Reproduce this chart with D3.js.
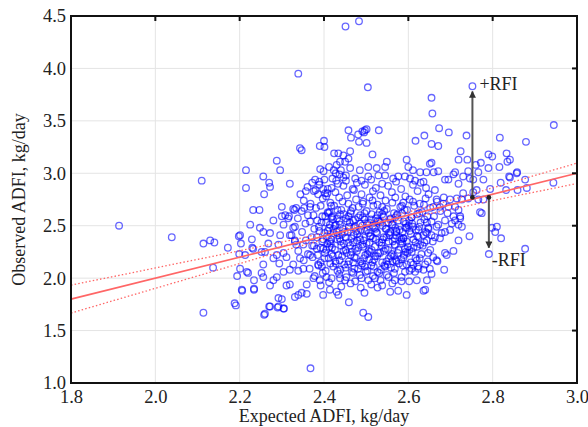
<!DOCTYPE html>
<html><head><meta charset="utf-8">
<script src="https://cdn.jsdelivr.net/npm/d3@7"></script>
<style>
body{margin:0;background:#fff}
text{font-family:"Liberation Serif","Times New Roman",serif;fill:#222}
</style>
</head><body>
<svg id="chart" width="588" height="427"></svg>
<script>
const xTicks=[1.8,2.0,2.2,2.4,2.6,2.8,3.0];
const yTicks=[1.0,1.5,2.0,2.5,3.0,3.5,4.0,4.5];
const xTitle="Expected ADFI, kg/day";
const yTitle="Observed ADFI, kg/day";
const fitX=[1.8,3.0], fitY=[1.8,3.0];
const bandX=[1.8,1.9,2.0,2.1,2.2,2.3,2.4,2.5,2.6,2.7,2.8,2.9,3.0];
const bandUpper=[1.933,2.015,2.097,2.179,2.261,2.344,2.431,2.525,2.631,2.744,2.861,2.979,3.097];
const bandLower=[1.667,1.785,1.903,2.021,2.139,2.256,2.369,2.475,2.569,2.656,2.739,2.821,2.903];
const rfiArrows=[{label:"+RFI",x:2.752,from:2.77,to:3.78},{label:"-RFI",x:2.791,from:2.77,to:2.29}];

const outerPoints=[
[1.914,2.50],[2.039,2.39],[2.114,2.33],[2.130,2.36],[2.140,2.34],[2.137,2.10],[2.114,1.67],[2.172,2.29],[2.194,2.02],[2.188,1.76],[2.191,1.74],[2.198,2.40],[2.203,2.33],[2.199,2.23],[2.206,1.88],[2.217,2.06],[2.220,2.05],[2.229,2.37],[2.230,2.29],[2.234,1.98],[2.234,1.89],[2.258,1.65],[2.270,1.73],[2.290,1.72],[2.300,1.80],[2.305,1.71],
[2.110,2.93],[2.215,3.03],[2.215,2.86],[2.232,2.65],[2.247,2.65],[2.256,2.97],[2.258,2.80],[2.270,2.91],[2.272,2.87],[2.288,3.12],[2.296,3.03],[2.300,2.68],[2.319,2.90],[2.327,2.66],[2.330,2.65],[2.339,3.95],[2.343,3.24],[2.347,3.22],
[2.451,4.40],[2.483,4.45],[2.504,3.82],[2.752,3.83],[2.655,3.72],[2.657,3.57],
[2.458,3.41],[2.464,3.34],[2.481,3.37],[2.491,3.40],[2.495,3.39],[2.497,3.41],[2.501,3.42],[2.483,3.30],[2.501,3.29],[2.530,3.41],[2.515,3.18],
[2.617,3.31],[2.638,3.36],[2.655,3.28],[2.671,3.26],[2.673,3.43],[2.696,3.39],[2.738,3.36],[2.817,3.34],[2.879,3.30],[2.945,3.46],[2.944,2.91],
[2.390,3.26],[2.400,3.31],[2.401,3.25],[2.424,3.19],[2.357,2.83],[2.379,2.94],[2.389,2.92],
[2.391,3.04],[2.399,3.02],[2.412,3.06],[2.423,3.03],[2.428,3.00],[2.420,2.95],[2.429,2.93],
[2.380,2.84],[2.386,2.80],[2.398,2.85],[2.403,2.81],[2.409,2.85],[2.408,2.81],
[2.367,2.68],[2.392,2.69],[2.334,2.67],[2.353,2.67],[2.317,2.59],[2.300,2.59],[2.410,2.62],[2.420,2.59],[2.432,2.65],
[2.434,3.19],[2.446,3.17],[2.462,3.21],[2.458,3.14],[2.438,3.11],[2.430,3.08],[2.450,3.11],
[2.440,3.03],[2.452,2.98],[2.446,2.96],[2.437,2.99],[2.462,3.05],
[2.485,3.03],[2.505,3.06],[2.525,3.05],[2.549,3.11],[2.545,3.06],[2.529,2.98],[2.505,2.97],[2.489,2.93],[2.474,2.95],[2.545,2.98],[2.564,2.95],[2.576,2.97],[2.596,3.13],[2.600,3.06],[2.611,3.03],[2.592,2.97],[2.616,2.93],[2.628,3.01],[2.643,3.01],[2.651,3.09],[2.636,2.92],[2.660,3.01],
[2.724,3.21],[2.719,3.13],[2.740,3.13],[2.742,3.02],[2.760,3.08],[2.772,3.10],[2.766,3.01],[2.778,2.94],[2.754,2.94],[2.746,2.95],[2.730,2.97],[2.719,2.90],[2.707,2.99],[2.711,3.01],[2.695,2.94],[2.687,2.94],[2.671,3.02],[2.655,3.10],[2.790,3.18],[2.799,3.16],[2.790,3.05],[2.816,3.06],[2.833,3.19],[2.841,3.13],[2.835,3.11],[2.858,3.01],[2.839,2.97],[2.819,2.91],[2.794,2.85],[2.832,2.84],[2.859,2.84],[2.877,2.94],[2.881,2.86],[2.762,2.84],[2.754,2.82],[2.730,2.81],[2.841,2.96],[2.857,3.00],
[2.742,2.76],[2.727,2.75],[2.715,2.76],[2.699,2.75],[2.683,2.71],[2.667,2.75],[2.770,2.63],[2.774,2.62],[2.778,2.75],[2.766,2.75],[2.695,2.68],[2.711,2.68],[2.719,2.65],[2.707,2.59],[2.723,2.59],[2.659,2.68],[2.675,2.68],
[2.667,2.49],[2.679,2.43],[2.687,2.44],[2.675,2.38],[2.699,2.46],[2.703,2.52],[2.711,2.55],[2.723,2.57],[2.727,2.49],[2.719,2.51],[2.719,2.36],[2.745,2.40],[2.655,2.41],[2.659,2.20],[2.669,2.16],[2.667,2.17],[2.687,2.24],[2.691,2.22],[2.707,2.26],[2.685,2.08],[2.651,2.09],[2.798,2.48],[2.810,2.49],[2.806,2.44],[2.820,2.38],[2.877,2.28],[2.791,2.23],
[2.368,1.14],[2.434,1.84],[2.459,1.77],[2.496,1.86],[2.493,1.67],[2.505,1.63],[2.527,1.91],[2.557,1.87],[2.576,1.88],[2.596,1.84],[2.636,1.88],[2.640,1.89],
[2.534,1.98],[2.553,2.01],[2.568,1.98],[2.584,1.97],[2.602,1.97],[2.620,1.98],[2.644,1.98],[2.655,2.04],[2.636,2.08],[2.616,2.06],[2.608,2.09],[2.592,2.06],[2.572,2.16],[2.545,2.11],[2.521,2.00],[2.505,1.98],[2.489,2.00],[2.474,1.97],[2.450,1.98],[2.438,2.00],[2.624,2.09],
[2.647,2.24],[2.640,2.13],[2.612,2.13],[2.620,2.17],[2.608,2.25],[2.592,2.28],[2.628,2.32],[2.644,2.36],[2.636,2.41],[2.647,2.48],[2.655,2.54],[2.584,2.35],[2.568,2.38],[2.572,2.44],[2.596,2.48],[2.624,2.46],
[2.205,1.89],[2.234,1.90],[2.256,2.01],[2.252,2.05],[2.280,1.98],[2.288,2.01],[2.272,1.93],[2.292,1.81],[2.311,1.93],[2.319,1.94],[2.331,1.82],[2.339,1.84],[2.347,1.86],[2.359,1.85],[2.359,1.94],[2.339,2.07],[2.304,2.06],[2.319,2.08],[2.294,2.14],[2.280,2.19],[2.288,2.22],[2.256,2.13],[2.252,2.25],[2.260,2.25],[2.232,2.28],[2.248,2.48],[2.256,2.44],[2.272,2.43],[2.225,2.51],[2.201,2.41],[2.213,2.22],[2.201,2.09],[2.292,2.32],[2.268,2.33],[2.296,2.41],[2.304,2.51],[2.315,2.57],[2.319,2.41],[2.331,2.36],[2.304,2.24],[2.311,2.20],[2.327,2.13],[2.351,2.09],[2.375,2.00],[2.390,1.98],[2.406,2.01],[2.414,1.89],[2.430,1.87],[2.398,1.84],[2.292,1.73],[2.272,1.73],[2.304,1.71],[2.260,1.66],[2.331,2.35],[2.280,2.55],[2.308,2.60],[2.367,2.54],[2.375,2.60],[2.327,2.48],[2.351,2.32],[2.343,2.19],[2.367,2.22],[2.386,2.13],[2.398,2.28],[2.414,2.35],[2.430,2.44],[2.414,2.51]
];

const corePoints=[
[2.372,2.91],[2.401,2.94],[2.433,2.90],[2.452,2.93],[2.478,2.91],[2.512,2.94],[2.538,2.90],[2.571,2.92],[2.604,2.95],[2.629,2.91],
[2.361,2.87],[2.389,2.89],[2.418,2.86],[2.446,2.88],[2.468,2.85],[2.497,2.89],[2.523,2.86],[2.552,2.88],[2.583,2.85],[2.611,2.89],[2.642,2.86],
[2.344,2.80],[2.376,2.83],[2.405,2.78],[2.427,2.82],[2.455,2.79],[2.471,2.84],[2.489,2.80],[2.516,2.83],[2.534,2.79],[2.561,2.82],[2.593,2.78],[2.622,2.83],[2.648,2.80],[2.663,2.84],
[2.352,2.74],[2.368,2.71],[2.397,2.76],[2.415,2.72],[2.436,2.77],[2.458,2.71],[2.476,2.75],[2.493,2.73],[2.508,2.77],[2.527,2.70],[2.546,2.74],[2.569,2.77],[2.588,2.72],[2.603,2.75],[2.627,2.71],[2.641,2.76],[2.668,2.73],[2.684,2.77],
[2.347,2.64],[2.381,2.67],[2.409,2.63],[2.424,2.69],[2.441,2.65],[2.463,2.62],[2.482,2.68],[2.501,2.64],[2.517,2.69],[2.532,2.63],[2.549,2.66],[2.566,2.62],[2.581,2.68],[2.597,2.65],[2.614,2.69],[2.633,2.63],[2.652,2.67],[2.676,2.64],[2.693,2.62],
[2.338,2.57],[2.362,2.60],[2.384,2.55],[2.403,2.59],[2.421,2.56],[2.438,2.61],[2.452,2.57],[2.469,2.55],[2.486,2.60],[2.497,2.56],[2.513,2.61],[2.528,2.55],[2.541,2.59],[2.557,2.56],[2.573,2.60],[2.589,2.54],[2.607,2.58],[2.621,2.61],[2.638,2.56],[2.661,2.59],[2.687,2.55],
[2.331,2.49],[2.356,2.52],[2.377,2.47],[2.394,2.53],[2.412,2.48],[2.428,2.51],[2.445,2.47],[2.461,2.53],[2.474,2.49],[2.488,2.46],[2.503,2.52],[2.519,2.48],[2.534,2.53],[2.548,2.47],[2.563,2.51],[2.579,2.46],[2.594,2.52],[2.611,2.49],[2.629,2.53],[2.648,2.47],[2.671,2.51],
[2.323,2.41],[2.348,2.44],[2.371,2.39],[2.389,2.45],[2.407,2.40],[2.423,2.43],[2.437,2.38],[2.456,2.44],[2.471,2.41],[2.484,2.39],[2.497,2.45],[2.511,2.40],[2.526,2.43],[2.542,2.39],[2.557,2.44],[2.571,2.41],[2.588,2.38],[2.603,2.45],[2.621,2.40],[2.644,2.43],[2.663,2.39],
[2.334,2.32],[2.357,2.36],[2.376,2.31],[2.396,2.35],[2.413,2.30],[2.431,2.37],[2.447,2.33],[2.462,2.31],[2.478,2.36],[2.493,2.30],[2.508,2.34],[2.523,2.37],[2.537,2.31],[2.553,2.35],[2.568,2.32],[2.584,2.37],[2.599,2.30],[2.617,2.34],[2.634,2.31],[2.658,2.35],
[2.339,2.26],[2.362,2.23],[2.383,2.28],[2.402,2.24],[2.419,2.29],[2.434,2.22],[2.451,2.27],[2.466,2.25],[2.482,2.29],[2.498,2.22],[2.513,2.27],[2.529,2.24],[2.546,2.28],[2.561,2.23],[2.577,2.27],[2.594,2.25],[2.612,2.29],[2.631,2.23],[2.652,2.27],
[2.352,2.17],[2.373,2.20],[2.392,2.15],[2.411,2.19],[2.428,2.14],[2.443,2.21],[2.459,2.16],[2.476,2.19],[2.491,2.14],[2.507,2.18],[2.522,2.21],[2.538,2.15],[2.554,2.19],[2.571,2.17],[2.589,2.20],[2.606,2.15],[2.627,2.19],[2.646,2.16],
[2.366,2.09],[2.387,2.12],[2.404,2.07],[2.422,2.11],[2.439,2.08],[2.457,2.13],[2.472,2.09],[2.488,2.12],[2.503,2.07],[2.518,2.11],[2.535,2.08],[2.551,2.13],[2.568,2.09],[2.587,2.12],[2.603,2.07],[2.623,2.11],
[2.378,2.02],[2.397,2.05],[2.418,2.00],[2.436,2.04],[2.453,2.01],[2.469,2.05],[2.485,2.03],[2.499,2.06],[2.516,2.02],[2.531,2.05],[2.549,2.03],[2.566,2.05],[2.584,2.01],
[2.392,1.93],[2.412,1.96],[2.441,1.92],[2.463,1.95],[2.487,1.91],[2.512,1.94],[2.538,1.93],[2.562,1.95]
];

const densePoints=[
[2.395,2.11],[2.432,2.07],[2.448,2.13],[2.481,2.09],[2.512,2.12],[2.527,2.06],[2.559,2.10],[2.578,2.14],[2.415,2.14],[2.466,2.06],
[2.401,2.19],[2.418,2.23],[2.437,2.17],[2.454,2.24],[2.472,2.20],[2.487,2.16],[2.503,2.23],[2.519,2.18],[2.533,2.24],[2.548,2.16],[2.566,2.21],[2.583,2.18],[2.598,2.24],[2.617,2.19],[2.385,2.22],
[2.392,2.29],[2.408,2.33],[2.426,2.27],[2.441,2.31],[2.458,2.34],[2.474,2.28],[2.491,2.32],[2.506,2.26],[2.521,2.30],[2.537,2.34],[2.552,2.27],[2.568,2.31],[2.586,2.33],[2.603,2.27],[2.621,2.30],[2.638,2.34],[2.372,2.31],
[2.383,2.39],[2.401,2.43],[2.417,2.37],[2.433,2.41],[2.449,2.44],[2.465,2.38],[2.479,2.42],[2.494,2.36],[2.509,2.40],[2.524,2.44],[2.539,2.37],[2.556,2.41],[2.572,2.45],[2.589,2.38],[2.606,2.42],[2.624,2.39],[2.641,2.44],
[2.388,2.49],[2.405,2.53],[2.422,2.47],[2.438,2.51],[2.455,2.54],[2.471,2.48],[2.486,2.52],[2.501,2.46],[2.516,2.50],[2.531,2.54],[2.546,2.47],[2.561,2.51],[2.577,2.55],[2.593,2.48],[2.609,2.52],[2.626,2.49],[2.644,2.53],
[2.396,2.59],[2.413,2.63],[2.431,2.57],[2.447,2.61],[2.464,2.64],[2.481,2.58],[2.496,2.62],[2.511,2.56],[2.527,2.60],[2.543,2.64],[2.558,2.57],[2.574,2.61],[2.591,2.65],[2.608,2.58],[2.626,2.62],[2.645,2.59],
[2.417,2.69],[2.444,2.73],[2.468,2.67],[2.492,2.71],[2.515,2.74],[2.538,2.68],[2.562,2.72],[2.585,2.69],[2.611,2.73],[2.637,2.70]
];

const centerPoints=[
[2.405,2.27],[2.421,2.21],[2.446,2.26],[2.463,2.22],[2.478,2.26],[2.495,2.19],[2.509,2.25],[2.526,2.21],[2.542,2.26],[2.558,2.21],[2.575,2.24],[2.590,2.22],
[2.398,2.37],[2.416,2.33],[2.439,2.35],[2.452,2.39],[2.469,2.34],[2.486,2.37],[2.501,2.33],[2.516,2.38],[2.531,2.34],[2.548,2.39],[2.563,2.35],[2.579,2.39],[2.596,2.35],[2.612,2.37],
[2.409,2.45],[2.426,2.50],[2.443,2.42],[2.459,2.49],[2.476,2.45],[2.491,2.50],[2.506,2.43],[2.522,2.47],[2.539,2.50],[2.553,2.43],[2.569,2.48],[2.586,2.44],[2.601,2.50],[2.618,2.46],
[2.418,2.58],[2.436,2.54],[2.458,2.59],[2.474,2.56],[2.492,2.58],[2.507,2.53],[2.523,2.57],[2.538,2.61],[2.553,2.53],[2.569,2.58],[2.585,2.62],[2.602,2.55],
[2.427,2.16],[2.451,2.10],[2.469,2.15],[2.497,2.11],[2.515,2.15],[2.543,2.12],[2.562,2.16],[2.596,2.13]
];

const L=71,R=577,T=16,B=383;
const svg=d3.select("#chart");
const x=d3.scaleLinear().domain([xTicks[0],xTicks[xTicks.length-1]]).range([L,R]);
const y=d3.scaleLinear().domain([yTicks[0],yTicks[yTicks.length-1]]).range([B,T]);

// grid
svg.append("g").selectAll("line").data(xTicks.slice(1,-1)).join("line")
  .attr("x1",d=>x(d)).attr("x2",d=>x(d)).attr("y1",T).attr("y2",B)
  .attr("stroke","#e4e4e4").attr("stroke-width",1);
svg.append("g").selectAll("line").data(yTicks.slice(1,-1)).join("line")
  .attr("y1",d=>y(d)).attr("y2",d=>y(d)).attr("x1",L).attr("x2",R)
  .attr("stroke","#e4e4e4").attr("stroke-width",1);

// points
const allPts=outerPoints.concat(corePoints,densePoints,centerPoints);
svg.append("g").selectAll("circle").data(allPts).join("circle")
  .attr("cx",d=>x(d[0])).attr("cy",d=>y(d[1])).attr("r",3.3)
  .attr("fill","none").attr("stroke","#0000ff").attr("stroke-opacity",0.6).attr("stroke-width",1.3);

// regression line and confidence band
const line=d3.line().x(d=>x(d[0])).y(d=>y(d[1]));
const smooth=d3.line().x(d=>x(d[0])).y(d=>y(d[1])).curve(d3.curveMonotoneX);
svg.append("path").attr("d",line(fitX.map((v,i)=>[v,fitY[i]])))
  .attr("fill","none").attr("stroke","#ff6666").attr("stroke-width",1.6);
[bandUpper,bandLower].forEach(arr=>{
  svg.append("path").attr("d",smooth(bandX.map((v,i)=>[v,arr[i]])))
    .attr("fill","none").attr("stroke","#ff6666").attr("stroke-width",1.3)
    .attr("stroke-dasharray","1.5,2.2");
});

// arrows
const defs=svg.append("defs");
defs.append("marker").attr("id","ah").attr("viewBox","0 0 10 10").attr("refX",9).attr("refY",5)
  .attr("markerWidth",3.5).attr("markerHeight",3.5).attr("orient","auto")
  .append("path").attr("d","M0,0L10,5L0,10z").attr("fill","#333");
defs.append("marker").attr("id","dot").attr("viewBox","0 0 10 10").attr("refX",5).attr("refY",5)
  .attr("markerWidth",3).attr("markerHeight",3)
  .append("circle").attr("cx",5).attr("cy",5).attr("r",4).attr("fill","#222");
rfiArrows.forEach(a=>{
  svg.append("line").attr("x1",x(a.x)).attr("x2",x(a.x)).attr("y1",y(a.from)).attr("y2",y(a.to))
    .attr("stroke","#555").attr("stroke-width",2).attr("marker-end","url(#ah)").attr("marker-start","url(#dot)");
});
svg.append("text").attr("x",x(rfiArrows[0].x)+7).attr("y",y(rfiArrows[0].to)-1)
  .attr("font-size",18).text(rfiArrows[0].label);
svg.append("text").attr("x",x(rfiArrows[1].x)+3).attr("y",y(rfiArrows[1].to)+18)
  .attr("font-size",18).text(rfiArrows[1].label);

// frame
svg.append("rect").attr("x",L).attr("y",T).attr("width",R-L).attr("height",B-T)
  .attr("fill","none").attr("stroke","#111").attr("stroke-width",2);
svg.append("g").selectAll("line").data(xTicks.slice(1,-1)).join("line")
  .attr("x1",d=>x(d)).attr("x2",d=>x(d)).attr("y1",T).attr("y2",T+5).attr("stroke","#111").attr("stroke-width",2);
svg.append("g").selectAll("line").data(yTicks.slice(1,-1)).join("line")
  .attr("y1",d=>y(d)).attr("y2",d=>y(d)).attr("x1",R).attr("x2",R-5).attr("stroke","#111").attr("stroke-width",2);

// axes labels
const xa=svg.append("g").attr("transform",`translate(0,${B})`)
  .call(d3.axisBottom(x).tickValues(xTicks).tickFormat(d3.format(".1f")).tickSize(0).tickPadding(7));
const ya=svg.append("g").attr("transform",`translate(${L},0)`)
  .call(d3.axisLeft(y).tickValues(yTicks).tickFormat(d3.format(".1f")).tickSize(0).tickPadding(5));
[xa,ya].forEach(g=>{g.select(".domain").remove();
  g.selectAll("text").attr("font-size",18.5).attr("fill","#222").style("font-family","'Liberation Serif',serif");});

svg.append("text").attr("x",(L+R)/2).attr("y",422).attr("text-anchor","middle")
  .attr("font-size",18).text(xTitle);
svg.append("text").attr("transform",`translate(25,${(T+B)/2}) rotate(-90)`).attr("text-anchor","middle")
  .attr("font-size",18).text(yTitle);
</script>
</body></html>
